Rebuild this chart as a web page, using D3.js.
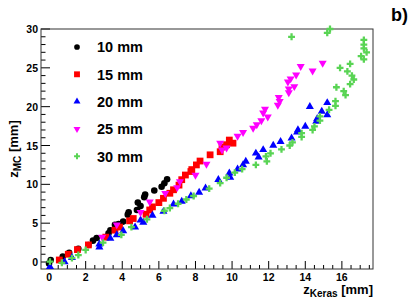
<!DOCTYPE html>
<head>
  <meta charset="utf-8">
  <script src="https://d3js.org/d3.v7.min.js"></script>
  <style>
    body { margin:0; background:#fff; }
    text { font-family: "Liberation Sans", Arial, sans-serif; font-weight: bold; }
  </style>
</head>
<body>
  <svg id="chart" width="415" height="300"></svg>
  <script>
    // 10 mm
    var x10 = [0.0, 0.09, 0.75, 1.1, 1.6, 2.15, 2.4, 2.6, 3.25, 3.35, 3.6, 3.8, 4.05, 4.3, 4.35, 4.8, 4.85, 5.0, 5.2, 5.25, 5.75, 6.15, 6.3, 6.45];
    var y10 = [-0.2, 0.26, 0.7, 1.2, 1.7, 2.2, 2.75, 3.1, 3.7, 4.1, 4.8, 4.9, 5.2, 6.1, 6.4, 6.7, 7.65, 7.2, 8.35, 8.7, 9.2, 9.7, 10.15, 10.65];
    // 15 mm
    var x15 = [0.56, 1.05, 1.55, 2.15, 3.1, 3.6, 3.85, 4.4, 4.6, 5.3, 5.5, 5.65, 6.0, 6.25, 6.6, 6.8, 7.1, 7.25, 7.45, 7.75, 7.8, 8.05, 8.25, 8.8, 9.35, 9.45, 9.7, 9.85, 10.05];
    var y15 = [0.26, 1.0, 1.6, 2.2, 3.2, 4.1, 4.5, 5.3, 5.6, 6.15, 6.7, 7.1, 7.65, 8.2, 8.85, 9.3, 9.9, 10.6, 11.2, 11.65, 11.9, 12.5, 13.0, 13.8, 14.2, 14.8, 15.1, 15.7, 15.3];
    // 20 mm
    var x20 = [0.05, 0.85, 1.25, 2.75, 2.75, 3.35, 3.7, 4.05, 4.7, 5.0, 5.15, 5.65, 6.25, 6.8, 7.25, 7.75, 8.2, 8.55, 9.25, 9.85, 9.9, 10.3, 10.6, 10.75, 11.3, 11.45, 11.7, 12.25, 12.65, 13.25, 13.55, 13.6, 14.0, 14.6, 14.65, 14.9, 15.2, 14.25, 15.2];
    var y20 = [-0.6, 0.0, 0.55, 1.9, 2.3, 3.05, 3.5, 4.0, 4.5, 5.4, 5.1, 6.0, 6.5, 7.45, 7.8, 8.5, 8.95, 9.5, 10.6, 11.45, 10.9, 11.95, 12.5, 12.95, 14.0, 13.5, 14.45, 15.0, 15.5, 15.95, 16.7, 17.0, 17.45, 18.1, 18.45, 19.4, 18.95, 20.0, 20.5];
    // 25 mm
    var x25 = [2.9, 3.7, 5.0, 5.5, 6.35, 7.0, 7.15, 8.0, 8.6, 9.35, 9.45, 9.7, 10.3, 10.6, 11.15, 11.35, 11.6, 11.7, 11.8, 11.95, 12.5, 12.6, 12.55, 13.1, 13.1, 13.4, 13.05, 13.2, 13.5, 13.75, 14.4, 14.95];
    var y25 = [3.2, 4.8, 6.4, 7.75, 8.85, 9.6, 10.35, 11.2, 12.6, 15.3, 14.45, 14.7, 16.2, 16.7, 17.25, 17.7, 18.2, 19.2, 19.7, 18.7, 20.2, 20.7, 21.2, 21.8, 22.3, 22.6, 23.2, 23.6, 24.1, 25.2, 24.6, 25.6];
    // 30 mm
    var x30 = [0.05, 0.7, 1.25, 1.6, 2.0, 2.95, 3.95, 4.5, 5.35, 6.3, 6.6, 7.05, 7.5, 7.9, 8.75, 9.35, 9.7, 10.15, 10.55, 11.3, 11.9, 11.85, 12.1, 12.7, 13.15, 13.3, 13.8, 13.8, 14.4, 14.5, 14.8, 14.8, 15.3, 15.65, 15.65, 15.7, 16.1, 16.2, 16.45, 16.65, 16.55, 16.3, 15.9, 16.45, 17.2, 17.05, 17.35, 17.2, 17.2, 17.2, 13.25, 15.2, 15.35];
    var y30 = [0.05, -0.1, 0.5, 0.9, 1.55, 2.5, 3.5, 4.5, 5.5, 6.6, 6.95, 7.5, 8.05, 8.5, 9.45, 10.15, 10.85, 11.5, 11.95, 12.5, 12.95, 13.6, 14.0, 14.5, 15.0, 15.4, 16.1, 16.6, 17.0, 17.45, 18.2, 18.75, 19.6, 20.1, 20.7, 22.5, 22.0, 21.5, 22.9, 23.5, 24.0, 24.55, 25.0, 25.5, 26.1, 26.5, 27.0, 27.5, 28.0, 28.6, 29.0, 29.5, 30.0];

    var labels = ["10 mm", "15 mm", "20 mm", "25 mm", "30 mm"];
    var xTicks = [0, 2, 4, 6, 8, 10, 12, 14, 16];
    var yTicks = [0, 5, 10, 15, 20, 25, 30];

    var series = [
      {x: x10, y: y10, color: "#000000", shape: d3.symbolCircle, size: 34, rot: 0},
      {x: x15, y: y15, color: "#ff0000", shape: d3.symbolSquare, size: 46, rot: 0},
      {x: x20, y: y20, color: "#0000ff", shape: d3.symbolTriangle, size: 28, rot: 0},
      {x: x25, y: y25, color: "#ff00ff", shape: d3.symbolTriangle, size: 28, rot: 180},
      {x: x30, y: y30, color: "#59d454", shape: d3.symbolCross, size: 26, rot: 0}
    ];

    var L = 41, R = 373, T = 29, B = 269;
    var x = d3.scaleLinear().domain([-0.44, 17.7]).range([L, R]);
    var y = d3.scaleLinear().domain([-0.9, 30]).range([B, T]);

    var svg = d3.select("#chart");

    // ticks, drawn inward like ROOT
    var g = svg.append("g").attr("stroke", "#000").attr("stroke-width", 1);
    d3.range(-0.5, 18, 0.5).filter(function(v){ return v >= -0.44 && v <= 17.7; }).forEach(function(v){
      var len = (Math.abs(v % 2) < 1e-9) ? 8 : 4;
      g.append("line").attr("x1", x(v)).attr("x2", x(v)).attr("y1", B).attr("y2", B - len);
    });
    d3.range(0, 31, 1).forEach(function(v){
      var len = (v % 5 === 0) ? 9 : 4.5;
      g.append("line").attr("x1", L).attr("x2", L + len).attr("y1", y(v)).attr("y2", y(v));
    });

    svg.append("rect").attr("x", L).attr("y", T).attr("width", R - L).attr("height", B - T)
      .attr("fill", "none").attr("stroke", "#333").attr("stroke-width", 1);

    svg.selectAll(".xl").data(xTicks).enter().append("text")
      .attr("x", function(d){ return x(d); }).attr("y", 280.5)
      .attr("text-anchor", "middle").style("font-size", "10.5px").text(function(d){ return d; });
    svg.selectAll(".yl").data(yTicks).enter().append("text")
      .attr("x", 38).attr("y", function(d){ return y(d) + 4; })
      .attr("text-anchor", "end").style("font-size", "10.5px").text(function(d){ return d; });

    // points
    series.forEach(function(s){
      var sym = d3.symbol().type(s.shape).size(s.size);
      svg.append("g").selectAll("path").data(d3.range(s.x.length)).enter().append("path")
        .attr("d", sym)
        .attr("fill", s.color)
        .attr("transform", function(i){ return "translate(" + x(s.x[i]) + "," + y(s.y[i]) + ") rotate(" + s.rot + ")"; });
    });

    // legend
    var leg = svg.append("g");
    series.forEach(function(s, i){
      var cy = 47 + i * 27.3;
      leg.append("path").attr("d", d3.symbol().type(s.shape).size(s.size * 0.75))
        .attr("fill", s.color).attr("transform", "translate(77," + cy + ") rotate(" + s.rot + ")");
      leg.append("text").attr("x", 97).attr("y", cy + 5.3).style("font-size", "14.5px").text(labels[i]);
    });

    // axis titles
    var xt = svg.append("text").attr("x", R).attr("y", 293.5).attr("text-anchor", "end").style("font-size", "13px");
    xt.append("tspan").text("z");
    xt.append("tspan").attr("dy", 3.5).style("font-size", "10px").text("Keras");
    xt.append("tspan").attr("dy", -3.5).text(" [mm]");

    var yt = svg.append("text").attr("transform", "translate(17.5," + ((T + B) / 2) + ") rotate(-90)")
      .attr("text-anchor", "middle").style("font-size", "13px");
    yt.append("tspan").text("z");
    yt.append("tspan").attr("dy", 3.5).style("font-size", "10px").text("MC");
    yt.append("tspan").attr("dy", -3.5).text(" [mm]");

    svg.append("text").attr("x", 391).attr("y", 21).style("font-size", "18px").text("b)");
  </script>
</body>
